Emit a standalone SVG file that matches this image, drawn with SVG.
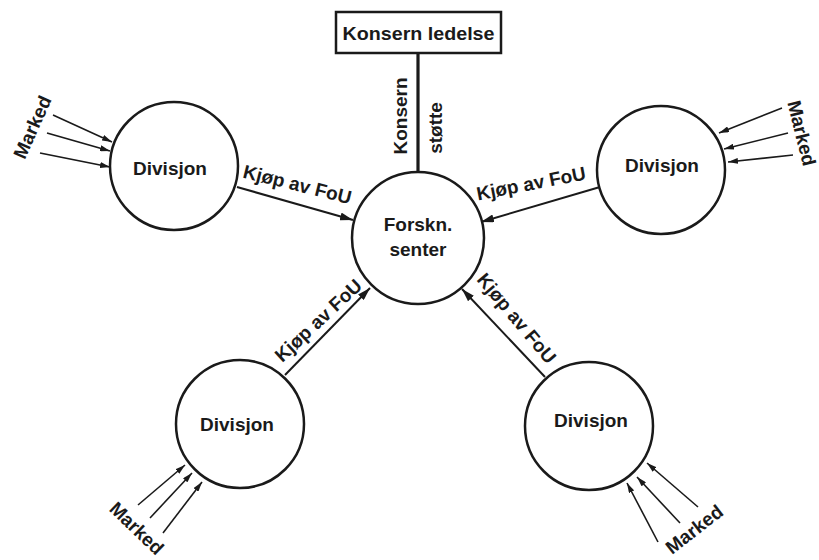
<svg xmlns="http://www.w3.org/2000/svg" width="819" height="560" viewBox="0 0 819 560">
<style>
  text { font-family: "Liberation Sans", Arial, sans-serif; font-weight: bold; fill: #1a1a1a; }
  .node { fill: #ffffff; stroke: #1a1a1a; stroke-width: 2.5; }
  .lbl { font-size: 19px; text-anchor: middle; }
  .conn { stroke: #1a1a1a; stroke-width: 2; fill: none; }
  .mkt { stroke: #1a1a1a; stroke-width: 1.6; fill: none; }
</style>
<defs>
  <marker id="big" markerUnits="userSpaceOnUse" markerWidth="13" markerHeight="8" refX="13" refY="4" orient="auto">
    <path d="M0,0 L13,4 L0,8 z" fill="#1a1a1a"/>
  </marker>
  <marker id="small" markerUnits="userSpaceOnUse" markerWidth="10" markerHeight="6" refX="10" refY="3" orient="auto">
    <path d="M0,0 L10,3 L0,6 z" fill="#1a1a1a"/>
  </marker>
</defs>
<rect width="819" height="560" fill="#ffffff"/>

<g id="connectors">
  <line x1="418" y1="53" x2="418" y2="172" stroke="#1a1a1a" stroke-width="3.2"/>
  <line class="conn" x1="237" y1="187" x2="353" y2="220" marker-end="url(#big)"/>
  <line class="conn" x1="600" y1="187" x2="481" y2="222" marker-end="url(#big)"/>
  <line class="conn" x1="285" y1="375" x2="370" y2="288" marker-end="url(#big)"/>
  <line class="conn" x1="545" y1="377" x2="462" y2="289" marker-end="url(#big)"/>

  <line class="mkt" x1="53" y1="115" x2="112" y2="142" marker-end="url(#small)"/>
  <line class="mkt" x1="47" y1="133" x2="110" y2="151" marker-end="url(#small)"/>
  <line class="mkt" x1="40" y1="153" x2="110" y2="167" marker-end="url(#small)"/>

  <line class="mkt" x1="782" y1="108" x2="719" y2="133" marker-end="url(#small)"/>
  <line class="mkt" x1="788" y1="133" x2="724" y2="149" marker-end="url(#small)"/>
  <line class="mkt" x1="793" y1="155" x2="728" y2="162" marker-end="url(#small)"/>

  <line class="mkt" x1="138" y1="505" x2="185" y2="465" marker-end="url(#small)"/>
  <line class="mkt" x1="150" y1="518" x2="192" y2="473" marker-end="url(#small)"/>
  <line class="mkt" x1="163" y1="533" x2="202" y2="482" marker-end="url(#small)"/>

  <line class="mkt" x1="658" y1="542" x2="627" y2="483" marker-end="url(#small)"/>
  <line class="mkt" x1="680" y1="523" x2="637" y2="477" marker-end="url(#small)"/>
  <line class="mkt" x1="698" y1="507" x2="647" y2="463" marker-end="url(#small)"/>

  <text class="lbl" font-size="20" transform="translate(407,116) rotate(-90)">Konsern</text>
  <text class="lbl" font-size="20" transform="translate(442,128) rotate(-90)">støtte</text>
  <text class="lbl" transform="translate(297.5,184) rotate(14)" y="7">Kjøp av FoU</text>
  <text class="lbl" transform="translate(531,183) rotate(-11)" y="7">Kjøp av FoU</text>
  <text class="lbl" transform="translate(318,320) rotate(-43)" y="7">Kjøp av FoU</text>
  <text class="lbl" transform="translate(517,318) rotate(50)" y="7">Kjøp av FoU</text>

  <text class="lbl" transform="translate(32,127) rotate(-66)" y="7">Marked</text>
  <text class="lbl" transform="translate(802,133) rotate(76)" y="7">Marked</text>
  <text class="lbl" transform="translate(137,528) rotate(44)" y="7">Marked</text>
  <text class="lbl" transform="translate(694,529) rotate(-38)" y="7">Marked</text>
</g>

<g id="konsern-ledelse">
  <rect x="336" y="12" width="165" height="41" fill="#ffffff" stroke="#1a1a1a" stroke-width="2.5"/>
  <text class="lbl" x="418.5" y="40" font-size="19" textLength="152" lengthAdjust="spacingAndGlyphs">Konsern ledelse</text>
</g>

<g id="forskn-senter">
  <circle class="node" cx="418" cy="238" r="66"/>
  <text class="lbl" x="418" y="231">Forskn.</text>
  <text class="lbl" x="418" y="256">senter</text>
</g>

<g id="divisjon-tl">
  <circle class="node" cx="174" cy="166" r="64"/>
  <text class="lbl" x="170" y="175">Divisjon</text>
</g>

<g id="divisjon-tr">
  <circle class="node" cx="661" cy="170" r="64"/>
  <text class="lbl" x="662" y="172">Divisjon</text>
</g>

<g id="divisjon-bl">
  <circle class="node" cx="240" cy="424" r="64"/>
  <text class="lbl" x="237" y="431">Divisjon</text>
</g>

<g id="divisjon-br">
  <circle class="node" cx="589" cy="426" r="64"/>
  <text class="lbl" x="591" y="427">Divisjon</text>
</g>
</svg>
